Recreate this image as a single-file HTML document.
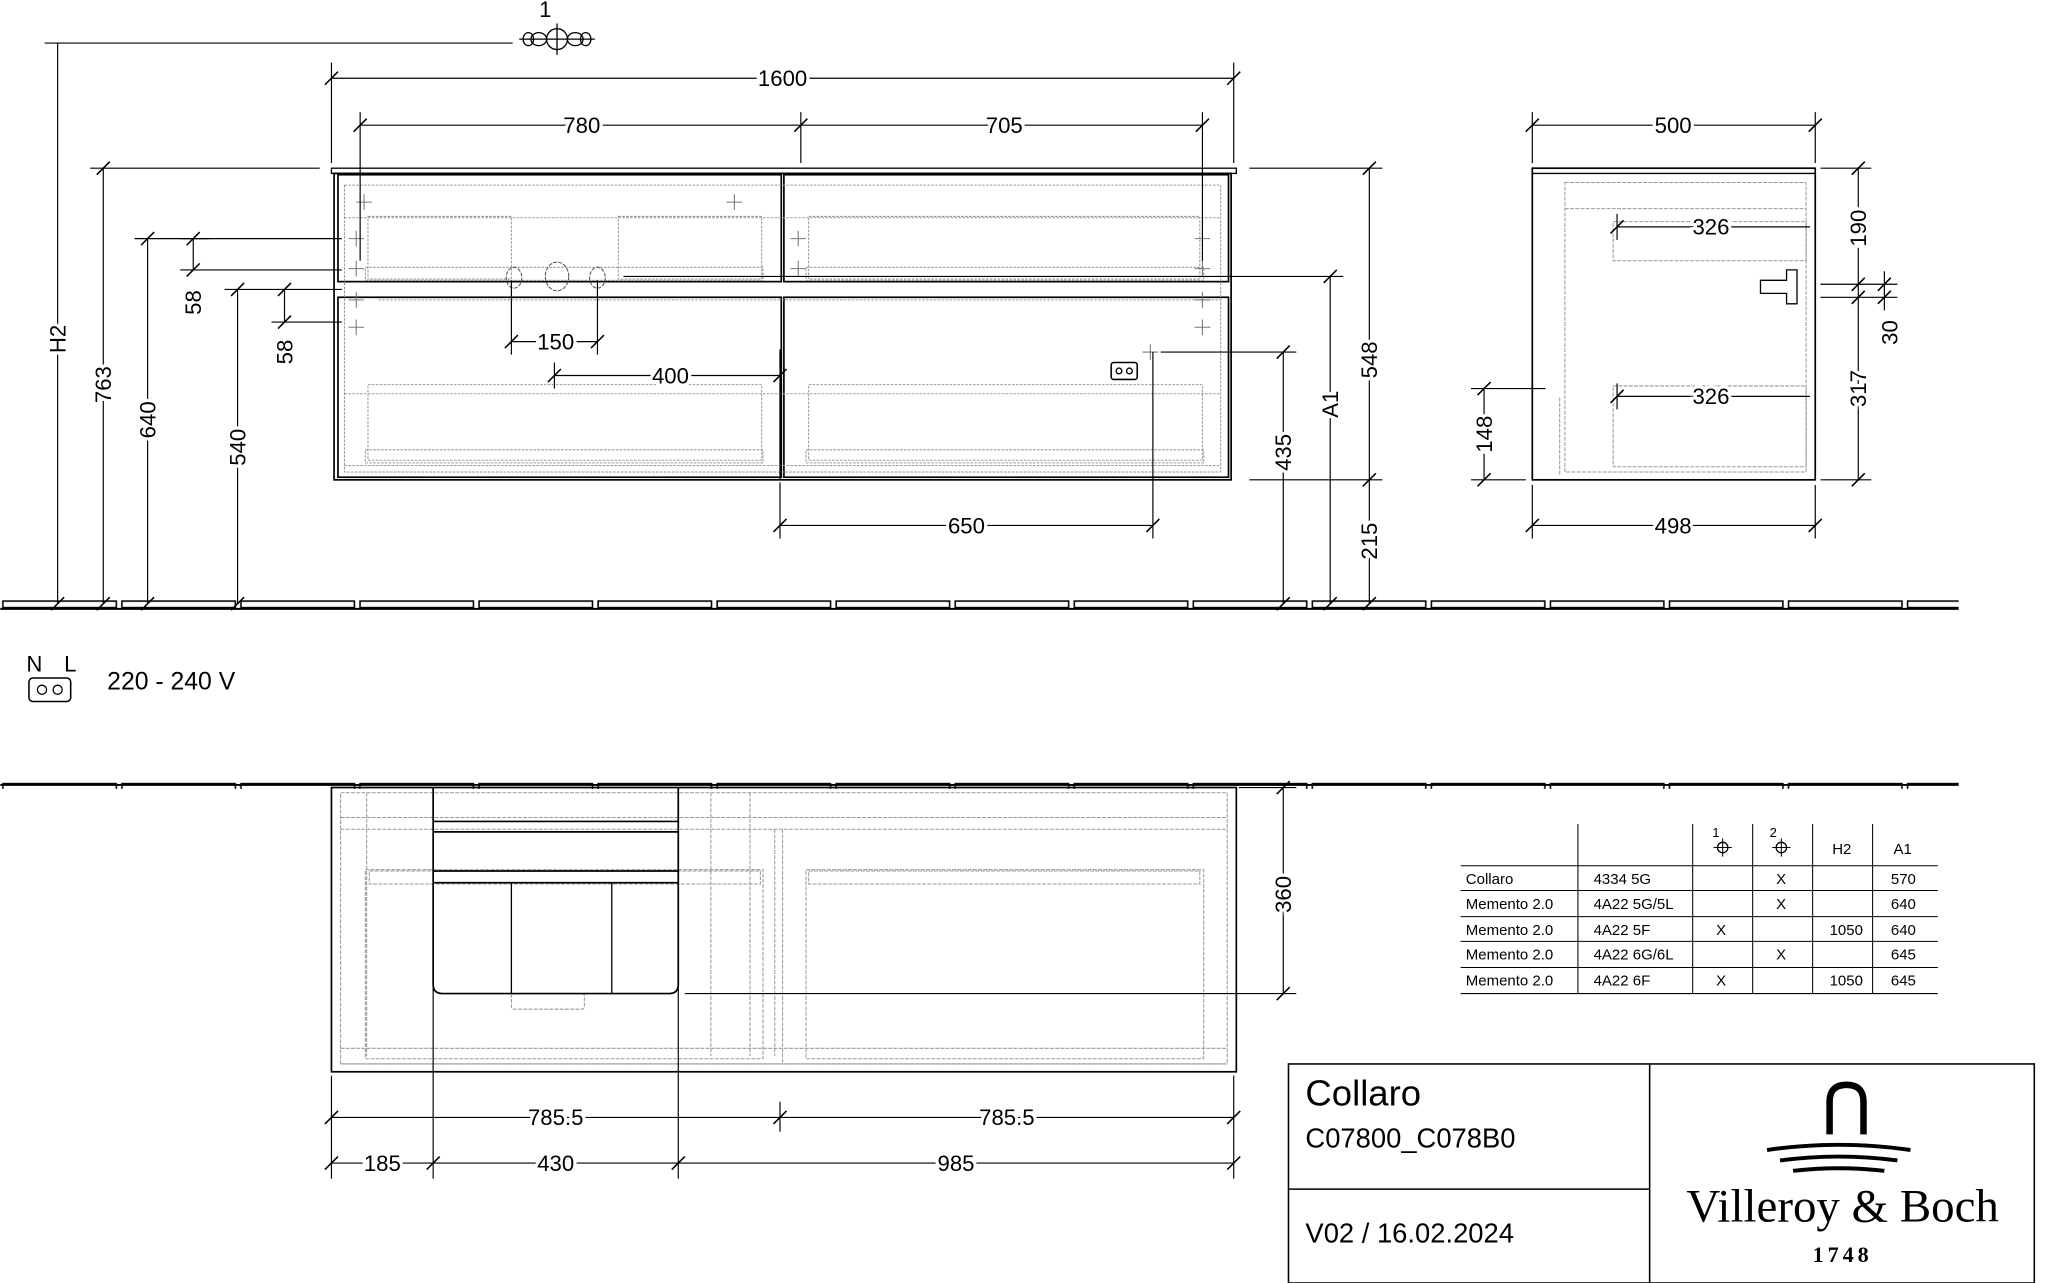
<!DOCTYPE html>
<html><head><meta charset="utf-8"><style>
html,body{margin:0;padding:0;background:#fff}
svg{display:block}
text{font-family:"Liberation Sans",sans-serif;fill:#000}
.d text{font-size:17px;stroke:#fff;stroke-width:5px;paint-order:stroke}
.serif{font-family:"Liberation Serif",serif}
</style></head><body>
<svg width="2045" height="1283" viewBox="0 0 1568 984" xmlns="http://www.w3.org/2000/svg">
<defs>
<pattern id="wall" x="0" y="0" width="91.3" height="10" patternUnits="userSpaceOnUse">
<rect x="2" y="1" width="87" height="5" fill="none" stroke="#000" stroke-width="1.2"/>
</pattern>
</defs>
<g stroke="#000" fill="none" stroke-width="1">
<line x1="0" y1="467" x2="1502" y2="467" stroke-width="1.5"/>
<rect x="0" y="460" width="1502" height="7" fill="url(#wall)" stroke="none"/>
<line x1="0" y1="602" x2="1502" y2="602" stroke-width="1.5"/>
<rect x="0" y="598" width="1502" height="7" fill="url(#wall)" stroke="none"/>

<rect x="254" y="129" width="694" height="4"/>
<rect x="256" y="133" width="688" height="235" stroke-width="1.3"/>
<rect x="259" y="134" width="340" height="82" stroke-width="1.3"/>
<rect x="601" y="134" width="341" height="82" stroke-width="1.3"/>
<rect x="259" y="228" width="340" height="138" stroke-width="1.3"/>
<rect x="601" y="228" width="341" height="138" stroke-width="1.3"/>
<g stroke="#999" stroke-dasharray="2,1" stroke-width="0.8">
<rect x="264" y="142" width="672" height="220"/>
<line x1="264" y1="167" x2="936" y2="167"/>
<rect x="282" y="166" width="110" height="48"/>
<rect x="474" y="166" width="110" height="48"/>
<rect x="620" y="166" width="300" height="48"/>
<rect x="280" y="205" width="305" height="10"/>
<rect x="618" y="205" width="305" height="10"/>
<rect x="282" y="295" width="302" height="58"/>
<rect x="620" y="295" width="302" height="58"/>
<rect x="280" y="345" width="305" height="10"/>
<rect x="618" y="345" width="305" height="10"/>
<line x1="264" y1="302" x2="936" y2="302"/>
<line x1="264" y1="357" x2="936" y2="357"/>
<line x1="290" y1="230" x2="936" y2="230"/>
</g>
<g stroke="#777" stroke-width="0.8">
<path d="M273,155h12M279,149v12M557,155h12M563,149v12M267,183h12M273,177v12M267,206h12M273,200v12M267,230h12M273,224v12M267,251h12M273,245v12M606,183h12M612,177v12M916,183h12M922,177v12M606,206h12M612,200v12M916,206h12M922,200v12M916,230h12M922,224v12M916,251h12M922,245v12M876,270h12M882,264v12"/>
</g>
<g stroke="#555" stroke-dasharray="3,1" stroke-width="0.8">
<ellipse cx="394" cy="213" rx="6" ry="8"/><ellipse cx="427" cy="212" rx="9" ry="11"/><ellipse cx="458" cy="213" rx="6" ry="8"/>
</g>
<rect x="852" y="278" width="20" height="13" rx="2" stroke-width="1.2"/>
<circle cx="858" cy="284.5" r="2.2"/><circle cx="866" cy="284.5" r="2.2"/>

<rect x="254" y="604" width="694" height="218" stroke-width="1.3"/>
<g stroke="#999" stroke-dasharray="3,1" stroke-width="0.8">
<rect x="261" y="608" width="680" height="208"/>
<line x1="261" y1="627" x2="941" y2="627"/><line x1="261" y1="636" x2="941" y2="636"/>
<line x1="261" y1="816" x2="941" y2="816"/><line x1="261" y1="804" x2="941" y2="804"/>
<rect x="280" y="667" width="305" height="145"/><rect x="283" y="668" width="300" height="10"/>
<rect x="618" y="667" width="305" height="145"/><rect x="620" y="668" width="300" height="10"/>
<line x1="281" y1="608" x2="281" y2="810"/><line x1="545" y1="608" x2="545" y2="810"/>
<line x1="575" y1="608" x2="575" y2="810"/>
<line x1="594" y1="636" x2="594" y2="810"/><line x1="600" y1="636" x2="600" y2="816"/>
<rect x="392" y="762" width="56" height="12" rx="2"/>
</g>
<line x1="332" y1="630" x2="520" y2="630" stroke-width="1.3"/><line x1="332" y1="638" x2="520" y2="638" stroke-width="1.3"/>
<line x1="332" y1="668" x2="520" y2="668" stroke-width="1.3"/><line x1="332" y1="677" x2="520" y2="677" stroke-width="1.3"/>
<path d="M332,604V755q0,7 7,7H513q7,0 7,-7V604" stroke-width="1.3"/>
<line x1="392" y1="677" x2="392" y2="762"/><line x1="469" y1="677" x2="469" y2="762"/>

<rect x="1175" y="129" width="217" height="239" stroke-width="1.3"/>
<line x1="1175" y1="133" x2="1392" y2="133"/>
<g stroke="#999" stroke-dasharray="3,1" stroke-width="0.8">
<rect x="1200" y="140" width="185" height="222"/>
<line x1="1200" y1="160" x2="1385" y2="160"/>
<rect x="1237" y="170" width="148" height="30"/><rect x="1237" y="296" width="148" height="62"/>
<line x1="1196" y1="305" x2="1196" y2="365"/>
</g>
<path d="M1350,215h20v-8h8v26h-8v-8h-20z" stroke-width="1"/>

<g stroke-width="0.9">
<path d="M254,60H946M254,48V125M946,48V125"/>
<path d="M276,96H922M276,86V200M614,86V125M922,86V200"/>
<path d="M392,262H458M392,215V272M458,215V272"/>
<path d="M425,288H598M425,278V298M598,268V368"/>
<path d="M598,403H884M598,370V413M884,270V413"/>
<path d="M254,857H946M254,825V868M598,845V868M946,825V868"/>
<path d="M254,892H946M254,868V904M332,604V904M520,604V904M946,868V904"/>
<path d="M1175,96H1392M1175,86V125M1392,86V125"/>
<path d="M1175,403H1392M1175,372V413M1392,372V413"/>
<path d="M1240,174H1388M1240,164V184"/>
<path d="M1240,304H1388M1240,294V314"/>
<path d="M44,33V463M34,33H393"/>
<path d="M79,129V463M69,129H245"/>
<path d="M113,183V463M103,183H262"/>
<path d="M148,183V207M138,183H160M138,207H262"/>
<path d="M182,222V463M172,222H262"/>
<path d="M218,222V247M208,247H262"/>
<path d="M984,270V463M890,270H994"/>
<path d="M1020,212V463M478,212H1030"/>
<path d="M1050,129V463M958,129H1060M958,368H1060"/>
<path d="M984,604V762M525,762H994M950,604H994"/>
<path d="M1425,129V368M1396,129H1435M1396,218H1435M1396,228H1455M1396,368H1435"/>
<path d="M1445,208V238M1435,218H1455"/>
<path d="M1138,298V368M1128,298H1185M1128,368H1170"/>
</g>
<g stroke-width="1.2">
<path d="M249,65l10,-10M941,65l10,-10M271,101l10,-10M609,101l10,-10M917,101l10,-10M387,267l10,-10M453,267l10,-10M420,293l10,-10M593,293l10,-10M593,408l10,-10M879,408l10,-10M249,862l10,-10M593,862l10,-10M941,862l10,-10M249,897l10,-10M327,897l10,-10M515,897l10,-10M941,897l10,-10M1170,101l10,-10M1387,101l10,-10M1170,408l10,-10M1387,408l10,-10M1235,179l10,-10M1235,309l10,-10"/>
<path d="M39,468l10,-10M74,468l10,-10M108,468l10,-10M177,468l10,-10M74,134l10,-10M108,188l10,-10M143,188l10,-10M143,212l10,-10M177,227l10,-10M213,227l10,-10M213,252l10,-10M979,275l10,-10M979,468l10,-10M1015,217l10,-10M1015,468l10,-10M1045,134l10,-10M1045,373l10,-10M1045,468l10,-10M979,609l10,-10M979,767l10,-10M1420,134l10,-10M1420,223l10,-10M1420,233l10,-10M1420,373l10,-10M1440,223l10,-10M1440,233l10,-10M1133,303l10,-10M1133,373l10,-10"/>
</g>

<circle cx="427" cy="30" r="8"/><ellipse cx="413" cy="30" rx="6" ry="5"/><ellipse cx="441" cy="30" rx="6" ry="5"/><ellipse cx="405" cy="30" rx="4" ry="5"/><ellipse cx="449" cy="30" rx="4" ry="5"/>
<line x1="427" y1="18" x2="427" y2="42"/><line x1="398" y1="30" x2="456" y2="30"/>

<rect x="22" y="520" width="32" height="18" rx="3" stroke-width="1.2"/>
<circle cx="32" cy="529" r="3.5"/><circle cx="44" cy="529" r="3.5"/>

<g stroke-width="0.8">
<path d="M1120,664H1486M1120,683H1486M1120,703H1486M1120,722H1486M1120,742H1486M1120,762H1486"/>
<path d="M1210,632V762M1298,632V762M1344,632V762M1390,632V762M1436,632V762"/>
</g>
<path d="M1314,650h14M1321,643v14M1359,650h14M1366,643v14" stroke-width="0.8"/>
<circle cx="1321" cy="650" r="4"/><circle cx="1366" cy="650" r="4"/>

<rect x="988" y="816" width="572" height="168" stroke-width="1.2"/>
<line x1="1265" y1="816" x2="1265" y2="984" stroke-width="1.2"/>
<line x1="988" y1="912" x2="1265" y2="912" stroke-width="1.2"/>
<path d="M1403,870V845q0,-13 13,-13t13,13V870" stroke-width="5"/>
<path d="M1355,882q55,-8 110,0M1365,890q45,-6 90,0M1375,898q35,-4 70,0" stroke-width="3"/>
</g>

<g class="d">
<text x="600" y="66" text-anchor="middle">1600</text>
<text x="446" y="102" text-anchor="middle">780</text>
<text x="770" y="102" text-anchor="middle">705</text>
<text x="426" y="268" text-anchor="middle">150</text>
<text x="514" y="294" text-anchor="middle">400</text>
<text x="741" y="409" text-anchor="middle">650</text>
<text x="426" y="863" text-anchor="middle">785.5</text>
<text x="772" y="863" text-anchor="middle">785.5</text>
<text x="293" y="898" text-anchor="middle">185</text>
<text x="426" y="898" text-anchor="middle">430</text>
<text x="733" y="898" text-anchor="middle">985</text>
<text x="1283" y="102" text-anchor="middle">500</text>
<text x="1283" y="409" text-anchor="middle">498</text>
<text x="1312" y="180" text-anchor="middle">326</text>
<text x="1312" y="310" text-anchor="middle">326</text>
<text transform="translate(50,260) rotate(-90)" text-anchor="middle">H2</text>
<text transform="translate(85,295) rotate(-90)" text-anchor="middle">763</text>
<text transform="translate(119,322) rotate(-90)" text-anchor="middle">640</text>
<text transform="translate(154,232) rotate(-90)" text-anchor="middle">58</text>
<text transform="translate(188,343) rotate(-90)" text-anchor="middle">540</text>
<text transform="translate(224,270) rotate(-90)" text-anchor="middle">58</text>
<text transform="translate(990,347) rotate(-90)" text-anchor="middle">435</text>
<text transform="translate(1026,310) rotate(-90)" text-anchor="middle">A1</text>
<text transform="translate(1056,276) rotate(-90)" text-anchor="middle">548</text>
<text transform="translate(1056,415) rotate(-90)" text-anchor="middle">215</text>
<text transform="translate(990,686) rotate(-90)" text-anchor="middle">360</text>
<text transform="translate(1431,175) rotate(-90)" text-anchor="middle">190</text>
<text transform="translate(1455,255) rotate(-90)" text-anchor="middle">30</text>
<text transform="translate(1431,298) rotate(-90)" text-anchor="middle">317</text>
<text transform="translate(1144,333) rotate(-90)" text-anchor="middle">148</text>
</g>
<text x="418" y="13" font-size="17" text-anchor="middle">1</text>
<text x="20" y="515" font-size="17">N</text><text x="49" y="515" font-size="17">L</text>
<text x="82" y="529" font-size="19">220 - 240 V</text>
<g font-size="11.5">
<text x="1313" y="642" font-size="10">1</text><text x="1357" y="642" font-size="10">2</text>
<text x="1405" y="655">H2</text><text x="1452" y="655">A1</text>
<text x="1124" y="678">Collaro</text><text x="1222" y="678">4334 5G</text><text x="1362" y="678">X</text><text x="1450" y="678">570</text>
<text x="1124" y="697">Memento 2.0</text><text x="1222" y="697">4A22 5G/5L</text><text x="1362" y="697">X</text><text x="1450" y="697">640</text>
<text x="1124" y="717">Memento 2.0</text><text x="1222" y="717">4A22 5F</text><text x="1316" y="717">X</text><text x="1403" y="717">1050</text><text x="1450" y="717">640</text>
<text x="1124" y="736">Memento 2.0</text><text x="1222" y="736">4A22 6G/6L</text><text x="1362" y="736">X</text><text x="1450" y="736">645</text>
<text x="1124" y="756">Memento 2.0</text><text x="1222" y="756">4A22 6F</text><text x="1316" y="756">X</text><text x="1403" y="756">1050</text><text x="1450" y="756">645</text>
</g>
<text x="1001" y="848" font-size="28">Collaro</text>
<text x="1001" y="880" font-size="21">C07800_C078B0</text>
<text x="1001" y="953" font-size="21">V02 / 16.02.2024</text>
<text class="serif" x="1413" y="937" font-size="36" text-anchor="middle">Villeroy &amp; Boch</text>
<text class="serif" x="1413" y="968" font-size="17" text-anchor="middle" font-weight="bold" letter-spacing="3">1748</text>
</svg>
</body></html>
